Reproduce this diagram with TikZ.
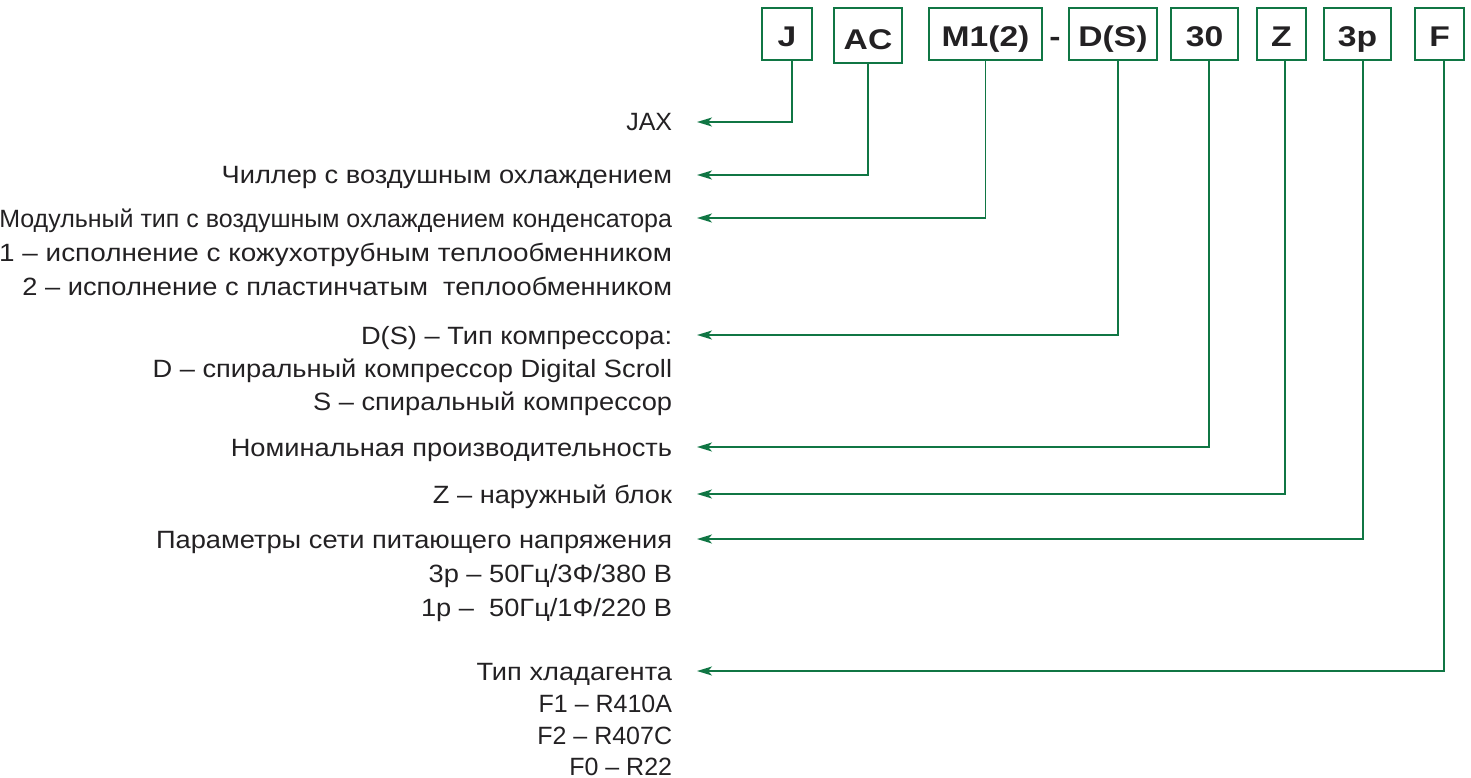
\documentclass[tikz,border=0pt]{standalone}
\usepackage{fontspec}
\setmainfont{Liberation Sans}
\newfontfamily\cyrfont[FakeStretch=1.09]{Liberation Sans}
\newfontfamily\cyrwidefont[FakeStretch=1.115]{Liberation Sans}
\newfontfamily\tagfont[FakeStretch=1.18]{Liberation Sans}
\usetikzlibrary{arrows.meta}
\definecolor{tagGreen}{RGB}{16,118,68}
\definecolor{inkGray}{RGB}{35,33,35}

\begin{document}
\begin{tikzpicture}[x=1pt,y=-1pt,line width=1.8pt,
    tag/.style={draw=tagGreen,line width=1.8pt,minimum height=52pt,inner xsep=0pt,inner ysep=0pt,
      text height=26pt,text depth=0pt,font=\fontsize{28.5}{30}\selectfont\tagfont\bfseries,text=inkGray},
    lab/.style={anchor=east,inner sep=0pt,text height=18pt,text depth=0pt,
      font=\fontsize{25}{30}\selectfont,text=inkGray},
    labc/.style={lab,font=\fontsize{25}{30}\selectfont\cyrfont},
    conn/.style={draw=tagGreen,line width=1.8pt,-{Stealth[length=15pt,width=9pt,inset=4pt]},shorten >=24pt}]
  \useasboundingbox (0,0) rectangle (1471,778);

      \node (bJ) at (787,34) [tag,minimum width=50pt]{J};
        \node (bAC) at (868,35.5) [tag,minimum width=68pt,minimum height=55pt,text height=27.5pt]{AC};
          \node (bM) at (985.5,34) [tag,minimum width=113pt]{M1(2)};
            \node (dash) at (1055,34) [tag,draw=none]{-};
              \node (bDS) at (1113,34) [tag,minimum width=88pt]{D(S)};
            \node (b30) at (1204.5,34) [tag,minimum width=67pt]{30};
          \node (bZ) at (1281.5,34) [tag,minimum width=49pt]{Z};
        \node (bP) at (1357.5,34) [tag,minimum width=67pt]{3p};
      \node (bF) at (1439.5,34) [tag,minimum width=49pt]{F};

  \node (lJAX) at (673,122) [lab]{JAX};
  \node (lAir) at (673,175) [labc]{Чиллер с воздушным охлаждением};
  \node (lMod) at (673,218) [lab]{Модульный тип с воздушным охлаждением конденсатора};
   \node (lMod1) at (673,252) [lab,font=\fontsize{25}{30}\selectfont\cyrwidefont]{1 – исполнение с кожухотрубным теплообменником};
   \node (lMod2) at (673,286) [labc]{2 – исполнение с пластинчатым\ \ теплообменником};
  \node (lComp) at (673,335) [labc]{D(S) – Тип компрессора:};
   \node (lComp1) at (673,368) [labc]{D – спиральный компрессор Digital Scroll};
   \node (lComp2) at (673,401) [labc]{S – спиральный компрессор};
  \node (lCap) at (673,447) [labc]{Номинальная производительность};
  \node (lOut) at (673,494) [labc]{Z – наружный блок};
  \node (lPow) at (673,539) [labc]{Параметры сети питающего напряжения};
   \node (lPow1) at (673,573) [labc]{3р – 50Гц/3Ф/380 В};
   \node (lPow2) at (673,607) [labc]{1р –\ \ 50Гц/1Ф/220 В};
  \node (lRef) at (673,671) [labc]{Тип хладагента};
   \node (lRef1) at (673,703) [lab]{F1 – R410A};
   \node (lRef2) at (673,735) [lab]{F2 – R407C};
   \node (lRef3) at (673,766) [lab]{F0 – R22};

  \draw[conn] ([xshift=5pt]bJ.south) |- (lJAX.east);
  \draw[conn] (bAC.south) |- (lAir.east);
  \draw[conn] (bM.south) |- (lMod.east);
  \draw[conn] ([xshift=5pt]bDS.south) |- (lComp.east);
  \draw[conn] ([xshift=4.5pt]b30.south) |- (lCap.east);
  \draw[conn] ([xshift=3.5pt]bZ.south) |- (lOut.east);
  \draw[conn] ([xshift=5.5pt]bP.south) |- (lPow.east);
  \draw[conn] ([xshift=4.5pt]bF.south) |- (lRef.east);
\end{tikzpicture}
\end{document}
